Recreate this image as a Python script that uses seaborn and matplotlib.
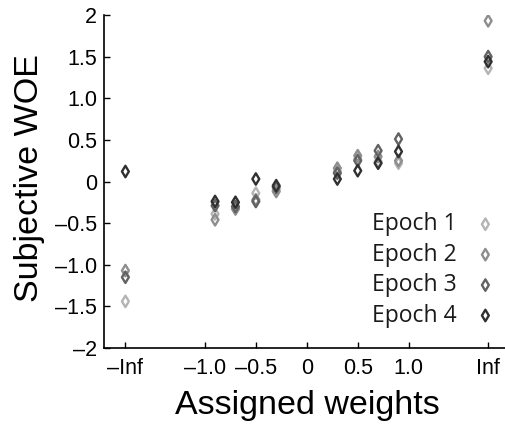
import matplotlib
matplotlib.use("Agg")
import matplotlib.pyplot as plt
import numpy as np
import pandas as pd
import seaborn as sns

# assigned weights; +-Inf drawn at +-1.78 on the axis
weights = [-1.78, -0.9, -0.7, -0.5, -0.3, 0.3, 0.5, 0.7, 0.9, 1.78]
epoch_1 = [-1.44, -0.39, -0.31, -0.14, -0.10, 0.12, 0.27, 0.24, 0.22, 1.36]
epoch_2 = [-1.07, -0.46, -0.33, -0.22, -0.12, 0.16, 0.31, 0.30, 0.25, 1.93]
epoch_3 = [-1.15, -0.29, -0.30, -0.24, -0.07, 0.10, 0.25, 0.37, 0.51, 1.50]
epoch_4 = [0.12, -0.24, -0.25, 0.03, -0.05, 0.03, 0.13, 0.22, 0.36, 1.44]

epoch_names = ["Epoch 1", "Epoch 2", "Epoch 3", "Epoch 4"]
epoch_colors = ["#b4b4b4", "#8e8e8e", "#626262", "#303030"]

x_ticks = [-1.78, -1.0, -0.5, 0.0, 0.5, 1.0, 1.78]
x_ticklabels = ["\u2013Inf", "\u20131.0", "\u20130.5", "0", "0.5", "1.0", "Inf"]
y_ticks = [-2, -1.5, -1, -0.5, 0, 0.5, 1, 1.5, 2]
y_ticklabels = ["\u20132", "\u20131.5", "\u20131.0", "\u20130.5", "0", "0.5", "1.0", "1.5", "2"]

df = pd.DataFrame({
    "weight": weights * 4,
    "woe": epoch_1 + epoch_2 + epoch_3 + epoch_4,
    "epoch": np.repeat(epoch_names, len(weights)),
})

sns.set_style("white")
plt.rcParams["font.family"] = ["Liberation Sans", "DejaVu Sans"]
plt.rcParams["text.color"] = "black"
plt.rcParams["axes.labelcolor"] = "black"

fig = plt.figure(figsize=(5.06, 4.26), dpi=100)
ax = fig.add_axes([104 / 506, 78 / 426, 402 / 506, 333 / 426])

for name, col in zip(epoch_names, epoch_colors):
    sub = df[df["epoch"] == name]
    sns.scatterplot(
        data=sub, x="weight", y="woe", ax=ax,
        marker="d", s=34, color=col, facecolor="none", edgecolor=col,
        linewidth=1.7, label=name, zorder=3,
    )

ax.set_xlim(-1.99, 1.955)
ax.set_ylim(-2, 2)
ax.set_xticks(x_ticks)
ax.set_xticklabels(x_ticklabels)
ax.set_yticks(y_ticks)
ax.set_yticklabels(y_ticklabels)
ax.tick_params(axis="both", direction="in", length=4, width=1, labelsize=15.5,
               colors="black", bottom=True, left=True)
ax.tick_params(axis="y", pad=5)
ax.tick_params(axis="x", pad=7)

sns.despine(ax=ax)
for side in ["left", "bottom"]:
    ax.spines[side].set_color("black")
    ax.spines[side].set_linewidth(1.2)

ax.set_xlabel("Assigned weights", fontsize=24.5)
ax.set_ylabel("Subjective WOE", fontsize=24.5)
ax.xaxis.set_label_coords(0.505, -0.125)
ax.yaxis.set_label_coords(-0.148, 0.51)

leg = ax.legend(
    loc="lower right", bbox_to_anchor=(1.0, 0.034), frameon=False,
    markerfirst=False, handletextpad=0.75, labelspacing=0.28,
    borderaxespad=0.0, handlelength=1.0,
    prop={"family": ["Open Sans", "DejaVu Sans"], "size": 16.5},
)
for t in leg.get_texts():
    t.set_color("#1a1a1a")

fig.savefig("out.png", dpi=100)
